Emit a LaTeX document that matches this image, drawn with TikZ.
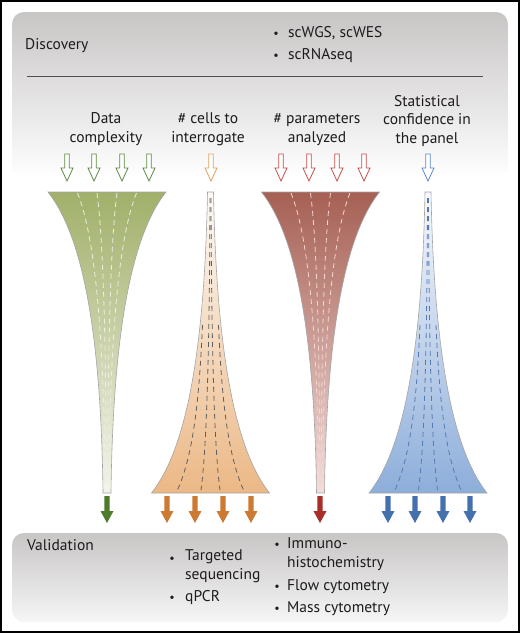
\documentclass[tikz,border=0pt]{standalone}
\usepackage{fontspec}
\setmainfont{PT Sans}
\usetikzlibrary{positioning}
\definecolor{panelgray}{RGB}{200,197,197}
\definecolor{panellight}{RGB}{246,246,246}
\definecolor{rulegray}{RGB}{80,80,80}
\definecolor{txt}{RGB}{30,27,28}
\definecolor{edgegray}{RGB}{165,165,165}
\definecolor{greentop}{RGB}{161,176,106}
\definecolor{greenmid}{RGB}{192,202,152}
\definecolor{greenbot}{RGB}{244,244,236}
\definecolor{greendash}{RGB}{236,238,222}
\definecolor{greenopen}{RGB}{95,140,65}
\definecolor{greensolid}{RGB}{78,122,44}
\definecolor{redtop}{RGB}{166,96,84}
\definecolor{redmid}{RGB}{202,148,140}
\definecolor{redbot}{RGB}{242,222,220}
\definecolor{reddash}{RGB}{242,215,210}
\definecolor{redopen}{RGB}{196,80,76}
\definecolor{redsolid}{RGB}{168,46,42}
\definecolor{orangetop}{RGB}{252,250,246}
\definecolor{orangemid}{RGB}{243,215,185}
\definecolor{orangebot}{RGB}{236,184,134}
\definecolor{orangedash}{RGB}{95,95,95}
\definecolor{orangeopen}{RGB}{226,160,96}
\definecolor{orangesolid}{RGB}{204,122,50}
\definecolor{bluetop}{RGB}{248,249,252}
\definecolor{bluemid}{RGB}{200,215,236}
\definecolor{bluebot}{RGB}{141,174,218}
\definecolor{bluedash}{RGB}{82,122,180}
\definecolor{blueopen}{RGB}{90,138,206}
\definecolor{bluesolid}{RGB}{68,112,174}
\tikzset{
  panel/.style={
    rounded corners=12pt
  },
  colhead/.style={
    align=center,
    anchor=base,
    inner sep=0pt
  },
  item/.style={
    align=left,
    anchor=base west,
    inner sep=0pt
  },
  dot/.style={
    anchor=base,
    inner sep=0pt,
    font=\fontsize{12}{12}\selectfont
  },
  funnel/.style={
    draw=edgegray,
    line width=0.6pt
  },
  flow/.style={
    dash pattern=on 5pt off 4pt,
    line width=0.8pt
  },
  hollow/.pic={
    \draw[line width=0.8pt, fill=white] (-2.3,0) -- (-2.3,14) -- (-6,14) -- (0,27)
      -- (6,14) -- (2.3,14) -- (2.3,0) -- cycle;
  },
  solid/.pic={
    \fill (-2.6,0) -- (-2.6,15) -- (-6.5,15) -- (0,27)
      -- (6.5,15) -- (2.6,15) -- (2.6,0) -- cycle;
  }
}

\begin{document}
\begin{tikzpicture}[x=1pt, y=-1pt, font=\fontsize{15.5}{18.5}\selectfont, text=txt]
  \useasboundingbox (0,0) rectangle (520,633);
  % panels
  \shade[panel, top color=panelgray, bottom color=white] (12,12) rectangle (508,178);
  \shade[panel, top color=panelgray, bottom color=panellight] (12,533) rectangle (508,622);
  \draw[rulegray, line width=1pt] (27,76) -- (483,76);

  \node[item] (disc) at (25,49) {Discovery};
  \node[dot] (b1) at (276,37) {\textbullet};
  \node[item] (wgs) at (288,37) {scWGS, scWES};
  \node[dot] (b2) at (276,59) {\textbullet};
  \node[item] (rna) at (288,59) {scRNAseq};

  % base anchor sits on the last line
  \node[colhead] (cplx) at (106,142) {Data\\complexity};
  \node[colhead] (cells) at (208,142) {\# cells to\\interrogate};
  \node[colhead] (param) at (317,142) {\# parameters\\analyzed};
  \node[colhead] (conf) at (427,143) {Statistical\\confidence in\\the panel};

  % funnels
  \foreach \cx/\tone in {107/green,320.5/red}{
    \shade[funnel, top color=\tone top, middle color=\tone mid, bottom color=\tone bot, shift={(\cx,192)}]
      (-59,0) .. controls (-25,43) and (-6,138) .. (-4,301) -- (4,301)
      .. controls (6,138) and (25,43) .. (59,0) -- cycle;
    \foreach \f in {-0.5,-0.17,0.17,0.5}
      \draw[flow, \tone dash, shift={(\cx,192)}] (\f*59,1) .. controls (\f*25,43) and (\f*6,138) .. (\f*4,290);
  }
  \foreach \cx/\tone in {210.5/orange,428/blue}{
    \shade[funnel, top color=\tone top, middle color=\tone mid, bottom color=\tone bot, shift={(\cx,192)}]
      (-3,0) .. controls (-6,163) and (-25,258) .. (-59,301) -- (59,301)
      .. controls (25,258) and (6,163) .. (3,0) -- cycle;
    \foreach \s in {-1,1}{
      \draw[flow, \tone dash, shift={(\cx,192)}] (\s*0.5,6) .. controls (\s*1,163) and (\s*4,258) .. (\s*9.5,298);
      \draw[flow, \tone dash, shift={(\cx,192)}] (\s*8,133) .. controls (\s*11,200) and (\s*16,260) .. (\s*33,298);
    }
  }

  % arrows in
  \foreach \x in {67,94,122,149}
    \pic[greenopen] at (\x,154) {hollow};
  \pic[orangeopen] at (211,154) {hollow};
  \foreach \x in {281,309,337,364}
    \pic[redopen] at (\x,154) {hollow};
  \pic[blueopen] at (428,154) {hollow};

  % arrows out
  \pic[greensolid] at (107,496) {solid};
  \foreach \x in {167,195,223,251}
    \pic[orangesolid] at (\x,496) {solid};
  \pic[redsolid] at (320,496) {solid};
  \foreach \x in {388,415,443,470}
    \pic[bluesolid] at (\x,496) {solid};

  \node[item] (valid) at (27,550) {Validation};
  \node[dot] (b3) at (172,562) {\textbullet};
  \node[item] (tseq) at (185,579) {Targeted\\sequencing};
  \node[dot] (b4) at (172,601) {\textbullet};
  \node[item] (qpcr) at (185,601) {qPCR};
  \node[dot] (b5) at (277,548) {\textbullet};
  \node[item] (ihc) at (287,567) {Immuno-\\histochemistry};
  \node[dot] (b6) at (277,590) {\textbullet};
  \node[item] (flow) at (287,590) {Flow cytometry};
  \node[dot] (b7) at (277,612) {\textbullet};
  \node[item] (mass) at (287,612) {Mass cytometry};

  \draw[line width=1.5pt] (1,1) rectangle (519,632);
\end{tikzpicture}
\end{document}
